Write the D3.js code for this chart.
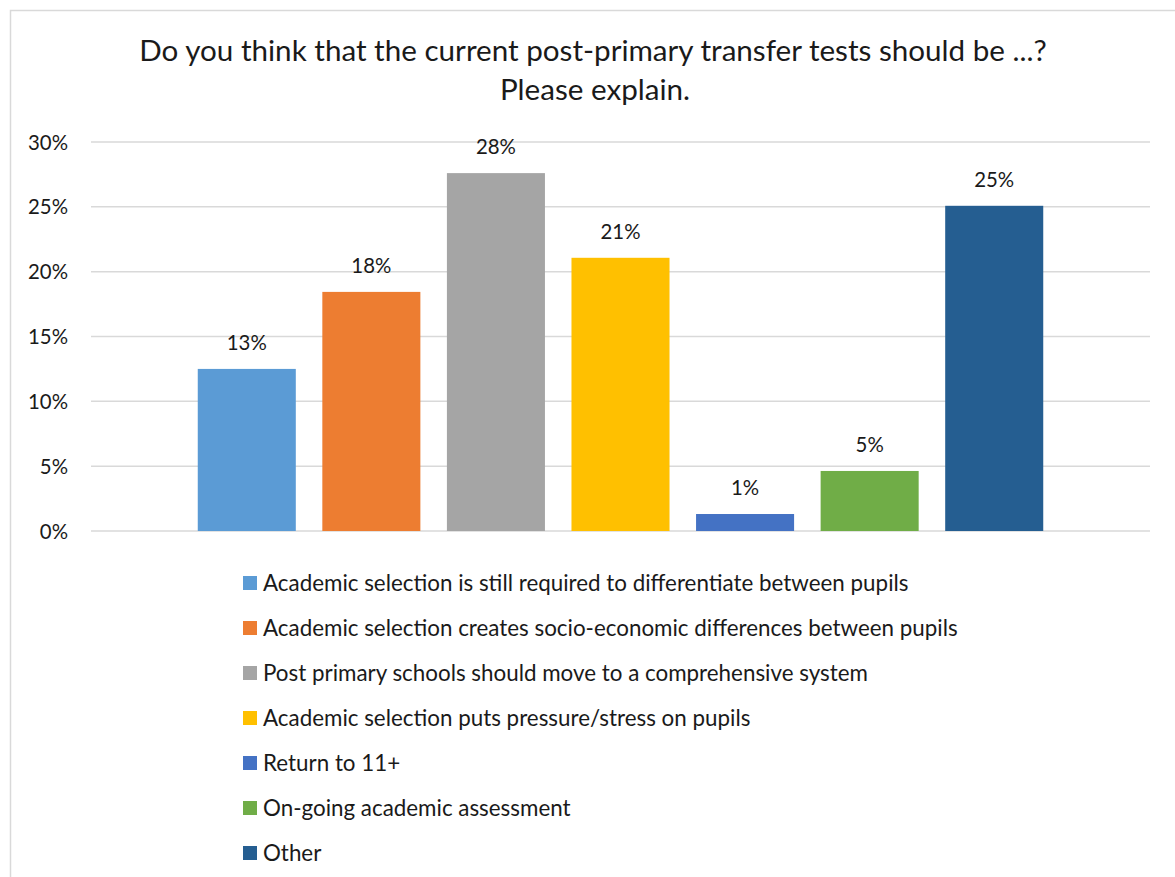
<!DOCTYPE html>
<html><head><meta charset="utf-8">
<script src="https://cdn.jsdelivr.net/npm/d3@7"></script>
<style>html,body{margin:0;padding:0;background:#fff;}svg{display:block;}</style>
</head><body>
<svg id="chart" width="1175" height="877"></svg>
<script>
const categories = [
  "Academic selection is still required to differentiate between pupils",
  "Academic selection creates socio-economic differences between pupils",
  "Post primary schools should move to a comprehensive system",
  "Academic selection puts pressure/stress on pupils",
  "Return to 11+",
  "On-going academic assessment",
  "Other"
];
const values = [0.125, 0.1844, 0.276, 0.2107, 0.0131, 0.0463, 0.2508];
const valueLabels = ["13%", "18%", "28%", "21%", "1%", "5%", "25%"];
const colors = ["#5B9BD5", "#ED7D31", "#A5A5A5", "#FFC000", "#4472C4", "#70AD47", "#255E91"];
const yTicks = [0, 0.05, 0.10, 0.15, 0.20, 0.25, 0.30];
const titleLines = ["Do you think that the current post-primary transfer tests should be ...?", "Please explain."];

const FONT = "Lato, 'Open Sans', sans-serif";
const svg = d3.select("#chart");

function fit(sel, target) {
  const n = sel.node();
  const fs = parseFloat(sel.attr("font-size"));
  const w = n.getComputedTextLength();
  if (w > 0) sel.attr("font-size", (fs * target / w).toFixed(2));
}

// outer border
svg.append("rect").attr("x", 10.5).attr("y", 10.5).attr("width", 1200).attr("height", 900)
  .attr("fill", "#fff").attr("stroke", "#d9d9d9").attr("stroke-width", 1.5);

const x0 = 91, x1 = 1150, yTop = 142, yBot = 531;
const x = d3.scaleBand().domain(categories).range([x0, x1]).paddingInner(0.213).paddingOuter(0.857);
const y = d3.scaleLinear().domain([0, 0.30]).range([yBot, yTop]);

// gridlines
svg.append("g").selectAll("line").data(yTicks).join("line")
  .attr("x1", x0).attr("x2", x1).attr("y1", d => y(d)).attr("y2", d => y(d))
  .attr("stroke", "#d9d9d9").attr("stroke-width", 1.5);

// y axis labels
const yAxis = d3.axisLeft(y).tickValues(yTicks).tickFormat(d3.format(".0%")).tickSize(0).tickPadding(0);
const ya = svg.append("g").attr("transform", "translate(68,0)").call(yAxis);
ya.select(".domain").remove();
ya.selectAll("text").attr("font-family", FONT).attr("font-size", 19).attr("fill", "#1a1a1a").attr("dy", "0.35em");
const tl = ya.selectAll("text").filter(d => d === 0.30);
fit(tl, 40);
ya.selectAll("text").attr("font-size", tl.attr("font-size"));
const LFS = tl.attr("font-size");

// bars
svg.append("g").selectAll("rect").data(categories).join("rect")
  .attr("x", d => x(d)).attr("width", x.bandwidth())
  .attr("y", (d, i) => y(values[i])).attr("height", (d, i) => yBot - y(values[i]))
  .attr("fill", (d, i) => colors[i]);

// value labels
svg.append("g").selectAll("text").data(categories).join("text")
  .attr("x", d => x(d) + x.bandwidth() / 2)
  .attr("y", (d, i) => y(values[i]) - 19)
  .attr("text-anchor", "middle").attr("font-family", FONT).attr("font-size", LFS).attr("fill", "#1a1a1a")
  .text((d, i) => valueLabels[i]);

// title
const t1 = svg.append("text").attr("x", 593).attr("y", 61).attr("text-anchor", "middle")
  .attr("font-family", FONT).attr("font-size", 26).attr("fill", "#1a1a1a").text(titleLines[0]);
fit(t1, 908);
const t2 = svg.append("text").attr("x", 595).attr("y", 100).attr("text-anchor", "middle")
  .attr("font-family", FONT).attr("font-size", t1.attr("font-size")).attr("fill", "#1a1a1a").text(titleLines[1]);

// legend
const lg = svg.append("g").selectAll("g").data(categories).join("g")
  .attr("transform", (d, i) => `translate(243,${583 + i * 45.0})`);
lg.append("rect").attr("x", 0).attr("y", -7).attr("width", 14).attr("height", 14).attr("fill", (d, i) => colors[i]);
const lt = lg.append("text").attr("x", 20).attr("y", 0).attr("dy", "0.35em")
  .attr("font-family", FONT).attr("font-size", 19).attr("fill", "#1a1a1a").text(d => d);
fit(d3.select(lt.nodes()[0]), 646);
const lfs = d3.select(lt.nodes()[0]).attr("font-size");
lt.attr("font-size", lfs);
</script>
</body></html>
